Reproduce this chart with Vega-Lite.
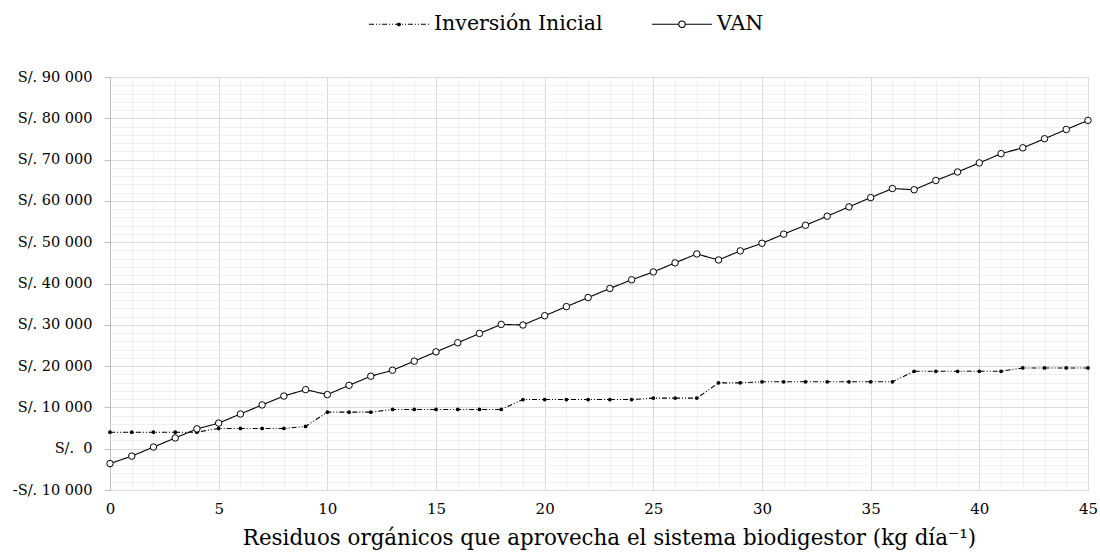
{
  "$schema": "https://vega.github.io/schema/vega-lite/v6.json",
  "width": 978,
  "height": 413,
  "autosize": {"type": "none"},
  "padding": {"left": 110, "top": 77, "right": 12, "bottom": 68},
  "background": "white",
  "config": {
    "font": "DejaVu Serif",
    "view": {"stroke": null},
    "axis": {"labelFont": "DejaVu Serif", "titleFont": "DejaVu Serif", "labelColor": "#000", "titleColor": "#000", "titleFontWeight": "normal"},
    "legend": {"labelFont": "DejaVu Serif", "labelColor": "#000"}
  },
  "data": {"values": [
    {"x": 0, "serie": "Inversión Inicial", "valor": 4000}, {"x": 1, "serie": "Inversión Inicial", "valor": 4000},
    {"x": 2, "serie": "Inversión Inicial", "valor": 4000}, {"x": 3, "serie": "Inversión Inicial", "valor": 4000},
    {"x": 4, "serie": "Inversión Inicial", "valor": 4000}, {"x": 5, "serie": "Inversión Inicial", "valor": 4900},
    {"x": 6, "serie": "Inversión Inicial", "valor": 4900}, {"x": 7, "serie": "Inversión Inicial", "valor": 4900},
    {"x": 8, "serie": "Inversión Inicial", "valor": 4900}, {"x": 9, "serie": "Inversión Inicial", "valor": 5400},
    {"x": 10, "serie": "Inversión Inicial", "valor": 8850}, {"x": 11, "serie": "Inversión Inicial", "valor": 8850},
    {"x": 12, "serie": "Inversión Inicial", "valor": 8850}, {"x": 13, "serie": "Inversión Inicial", "valor": 9500},
    {"x": 14, "serie": "Inversión Inicial", "valor": 9500}, {"x": 15, "serie": "Inversión Inicial", "valor": 9500},
    {"x": 16, "serie": "Inversión Inicial", "valor": 9500}, {"x": 17, "serie": "Inversión Inicial", "valor": 9500},
    {"x": 18, "serie": "Inversión Inicial", "valor": 9500}, {"x": 19, "serie": "Inversión Inicial", "valor": 11900},
    {"x": 20, "serie": "Inversión Inicial", "valor": 11900}, {"x": 21, "serie": "Inversión Inicial", "valor": 11900},
    {"x": 22, "serie": "Inversión Inicial", "valor": 11900}, {"x": 23, "serie": "Inversión Inicial", "valor": 11900},
    {"x": 24, "serie": "Inversión Inicial", "valor": 11900}, {"x": 25, "serie": "Inversión Inicial", "valor": 12250},
    {"x": 26, "serie": "Inversión Inicial", "valor": 12250}, {"x": 27, "serie": "Inversión Inicial", "valor": 12250},
    {"x": 28, "serie": "Inversión Inicial", "valor": 15950}, {"x": 29, "serie": "Inversión Inicial", "valor": 15950},
    {"x": 30, "serie": "Inversión Inicial", "valor": 16200}, {"x": 31, "serie": "Inversión Inicial", "valor": 16200},
    {"x": 32, "serie": "Inversión Inicial", "valor": 16200}, {"x": 33, "serie": "Inversión Inicial", "valor": 16200},
    {"x": 34, "serie": "Inversión Inicial", "valor": 16200}, {"x": 35, "serie": "Inversión Inicial", "valor": 16200},
    {"x": 36, "serie": "Inversión Inicial", "valor": 16200}, {"x": 37, "serie": "Inversión Inicial", "valor": 18750},
    {"x": 38, "serie": "Inversión Inicial", "valor": 18750}, {"x": 39, "serie": "Inversión Inicial", "valor": 18750},
    {"x": 40, "serie": "Inversión Inicial", "valor": 18750}, {"x": 41, "serie": "Inversión Inicial", "valor": 18750},
    {"x": 42, "serie": "Inversión Inicial", "valor": 19550}, {"x": 43, "serie": "Inversión Inicial", "valor": 19550},
    {"x": 44, "serie": "Inversión Inicial", "valor": 19550}, {"x": 45, "serie": "Inversión Inicial", "valor": 19550},
    {"x": 0, "serie": "VAN", "valor": -3600}, {"x": 1, "serie": "VAN", "valor": -1800},
    {"x": 2, "serie": "VAN", "valor": 400}, {"x": 3, "serie": "VAN", "valor": 2600},
    {"x": 4, "serie": "VAN", "valor": 4800}, {"x": 5, "serie": "VAN", "valor": 6200},
    {"x": 6, "serie": "VAN", "valor": 8400}, {"x": 7, "serie": "VAN", "valor": 10600},
    {"x": 8, "serie": "VAN", "valor": 12750}, {"x": 9, "serie": "VAN", "valor": 14300},
    {"x": 10, "serie": "VAN", "valor": 13100}, {"x": 11, "serie": "VAN", "valor": 15350},
    {"x": 12, "serie": "VAN", "valor": 17550}, {"x": 13, "serie": "VAN", "valor": 19000},
    {"x": 14, "serie": "VAN", "valor": 21200}, {"x": 15, "serie": "VAN", "valor": 23450},
    {"x": 16, "serie": "VAN", "valor": 25650}, {"x": 17, "serie": "VAN", "valor": 27900},
    {"x": 18, "serie": "VAN", "valor": 30100}, {"x": 19, "serie": "VAN", "valor": 29950},
    {"x": 20, "serie": "VAN", "valor": 32200}, {"x": 21, "serie": "VAN", "valor": 34400},
    {"x": 22, "serie": "VAN", "valor": 36600}, {"x": 23, "serie": "VAN", "valor": 38800},
    {"x": 24, "serie": "VAN", "valor": 40900}, {"x": 25, "serie": "VAN", "valor": 42800},
    {"x": 26, "serie": "VAN", "valor": 45000}, {"x": 27, "serie": "VAN", "valor": 47150},
    {"x": 28, "serie": "VAN", "valor": 45700}, {"x": 29, "serie": "VAN", "valor": 47900},
    {"x": 30, "serie": "VAN", "valor": 49750}, {"x": 31, "serie": "VAN", "valor": 51950},
    {"x": 32, "serie": "VAN", "valor": 54100}, {"x": 33, "serie": "VAN", "valor": 56300},
    {"x": 34, "serie": "VAN", "valor": 58550}, {"x": 35, "serie": "VAN", "valor": 60800},
    {"x": 36, "serie": "VAN", "valor": 63000}, {"x": 37, "serie": "VAN", "valor": 62700},
    {"x": 38, "serie": "VAN", "valor": 64950}, {"x": 39, "serie": "VAN", "valor": 67000},
    {"x": 40, "serie": "VAN", "valor": 69200}, {"x": 41, "serie": "VAN", "valor": 71450},
    {"x": 42, "serie": "VAN", "valor": 72850}, {"x": 43, "serie": "VAN", "valor": 75050},
    {"x": 44, "serie": "VAN", "valor": 77300}, {"x": 45, "serie": "VAN", "valor": 79500}
  ]},
  "resolve": {"axis": {"x": "independent", "y": "independent"}},
  "layer": [
    {
      "transform": [{"filter": "datum.serie === 'Inversión Inicial'"}],
      "mark": {"type": "point", "filled": true, "color": "black", "size": 14, "opacity": 1},
      "encoding": {
        "x": {"field": "x", "type": "quantitative", "scale": {"domain": [0, 45], "nice": false},
          "axis": {"orient": "top", "values": [1,2,3,4,6,7,8,9,11,12,13,14,16,17,18,19,21,22,23,24,26,27,28,29,31,32,33,34,36,37,38,39,41,42,43,44],
            "grid": true, "gridColor": "#efefef", "gridWidth": 1, "labels": false, "ticks": false, "domain": false, "title": null}},
        "y": {"field": "valor", "type": "quantitative", "scale": {"domain": [-10000, 90000], "nice": false, "zero": false},
          "axis": {"orient": "right", "values": [-8000,-6000,-4000,-2000,2000,4000,6000,8000,12000,14000,16000,18000,22000,24000,26000,28000,32000,34000,36000,38000,42000,44000,46000,48000,52000,54000,56000,58000,62000,64000,66000,68000,72000,74000,76000,78000,82000,84000,86000,88000],
            "grid": true, "gridColor": "#efefef", "gridWidth": 1, "labels": false, "ticks": false, "domain": false, "title": null}}
      }
    },
    {
      "mark": {"type": "line", "color": "black", "strokeWidth": 1.1},
      "encoding": {
        "x": {"field": "x", "type": "quantitative", "scale": {"domain": [0, 45], "nice": false},
          "axis": {"orient": "bottom", "values": [0,5,10,15,20,25,30,35,40,45], "grid": true, "gridColor": "#d9d9d9", "gridWidth": 1,
            "domain": true, "domainColor": "#d9d9d9", "ticks": false, "labelFontSize": 15, "labelPadding": 11, "labelFlush": false,
            "title": "Residuos orgánicos que aprovecha el sistema biodigestor (kg día⁻¹)", "titleFontSize": 21.4, "titlePadding": 11, "titleX": 499}},
        "y": {"field": "valor", "type": "quantitative", "scale": {"domain": [-10000, 90000], "nice": false, "zero": false},
          "axis": {"orient": "left", "values": [-10000,0,10000,20000,30000,40000,50000,60000,70000,80000,90000], "grid": true, "gridColor": "#d9d9d9", "gridWidth": 1,
            "domain": true, "domainColor": "#bfbfbf", "ticks": true, "tickColor": "#bfbfbf", "tickSize": 6, "labelFontSize": 14.5, "labelPadding": 12,
            "labelExpr": "datum.value < 0 ? '-S/. ' + replace(format(-datum.value, ',d'), regexp(',', 'g'), ' ') : (datum.value == 0 ? 'S/.\u00a0 0' : 'S/. ' + replace(format(datum.value, ',d'), regexp(',', 'g'), ' '))",
            "title": null}},
        "detail": {"field": "serie"},
        "strokeDash": {"field": "serie", "type": "nominal",
          "scale": {"domain": ["Inversión Inicial", "VAN"], "range": [[5, 2, 1, 2, 1, 2], [1, 0]]},
          "legend": {"orient": "none", "legendX": 258, "legendY": -84, "direction": "horizontal", "title": null,
            "symbolSize": 3600, "symbolStrokeWidth": 1.1, "symbolStrokeColor": "black", "symbolType": "M-1,0H1",
            "labelFontSize": 20.5, "labelOffset": 4, "columnPadding": 46, "labelLimit": 400,
            "encode": {"symbols": {"update": {
              "shape": {"signal": "datum.value === 'VAN' ? 'M-1,0H-0.11 M0.11,0H1 M-0.11,0A0.11,0.11 0 1,0 0.11,0A0.11,0.11 0 1,0 -0.11,0' : 'M-1,0H1 M-0.05,0A0.05,0.05 0 1,0 0.05,0A0.05,0.05 0 1,0 -0.05,0'"},
              "fill": {"signal": "datum.value === 'VAN' ? 'white' : 'black'"},
              "fillOpacity": {"value": 1},
              "stroke": {"value": "black"},
              "strokeOpacity": {"value": 1},
              "strokeWidth": {"value": 1.1},
              "opacity": {"value": 1}
            }}}}
        }
      }
    },
    {
      "transform": [{"filter": "datum.serie === 'VAN'"}],
      "mark": {"type": "point", "filled": true, "fill": "white", "stroke": "black", "strokeWidth": 1, "size": 42, "opacity": 1},
      "encoding": {
        "x": {"field": "x", "type": "quantitative", "axis": null},
        "y": {"field": "valor", "type": "quantitative", "axis": null}
      }
    }
  ]
}
